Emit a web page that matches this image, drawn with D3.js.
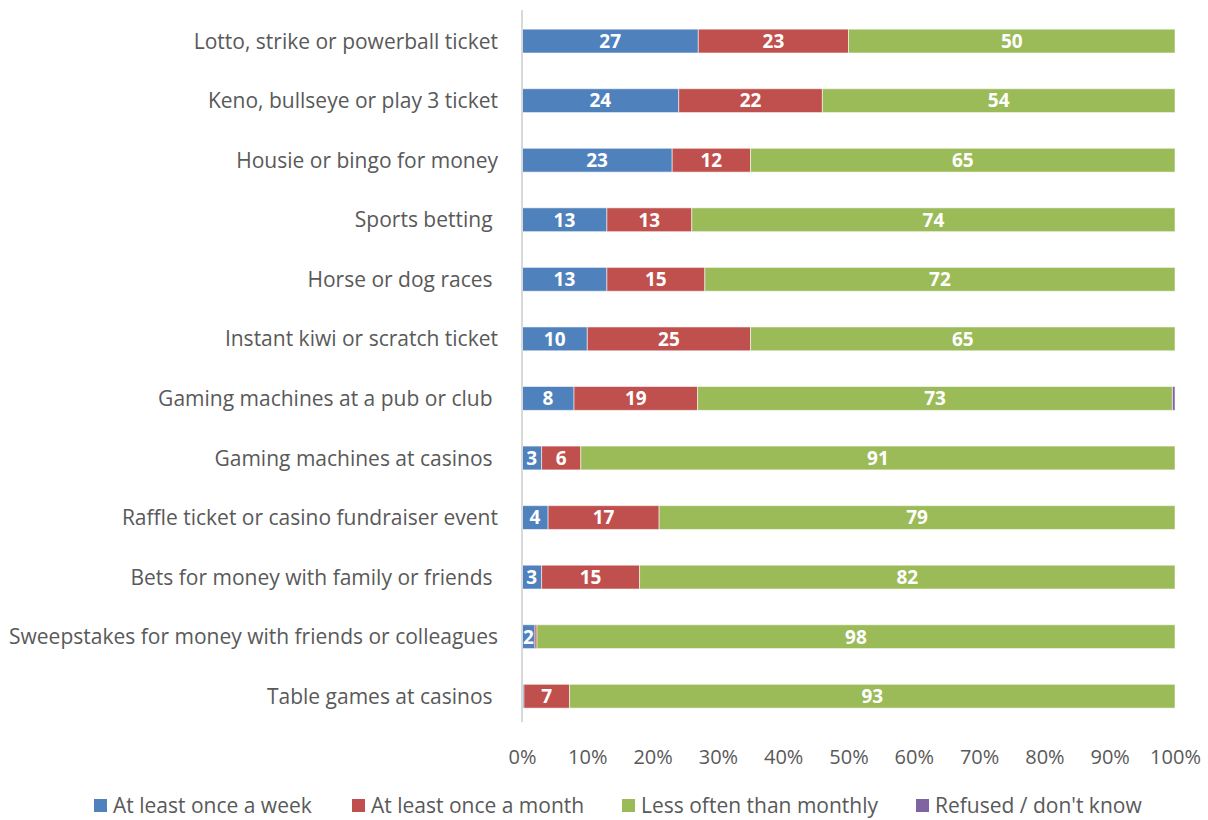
<!DOCTYPE html>
<html>
<head>
<meta charset="utf-8">
<script src="https://cdn.jsdelivr.net/npm/d3@7"></script>
<style>
  html, body { margin: 0; padding: 0; background: #fff; }
  svg { display: block; font-family: "Open Sans", Lato, sans-serif; }
</style>
</head>
<body>
<svg id="chart" width="1208" height="820"></svg>
<script>
// Gambling activity frequency (% of participants), 100% stacked bars
const categories = [
  "Lotto, strike or powerball ticket",
  "Keno, bullseye or play 3 ticket",
  "Housie or bingo for money",
  "Sports betting ",
  "Horse or dog races ",
  "Instant kiwi or scratch ticket",
  "Gaming machines at a pub or club ",
  "Gaming machines at casinos ",
  "Raffle ticket or casino fundraiser event",
  "Bets for money with family or friends ",
  "Sweepstakes for money with friends or colleagues",
  "Table games at casinos "
];
const seriesNames = ["At least once a week", "At least once a month", "Less often than monthly", "Refused / don't know"];
const weekly   = [27, 24, 23, 13, 13, 10, 8, 3, 4, 3, 2, 0.3];
const monthly  = [23, 22, 12, 13, 15, 25, 19, 6, 17, 15, 0.3, 7];
const lessOften= [50, 54, 65, 74, 72, 65, 73, 91, 79, 82, 98, 93];
const refused  = [0, 0, 0, 0, 0, 0, 0.4, 0, 0, 0, 0, 0];
const tickValues = [0, 0.1, 0.2, 0.3, 0.4, 0.5, 0.6, 0.7, 0.8, 0.9, 1];
const colors = ["#4F81BD", "#C0504D", "#9BBB59", "#8064A2"];

const rows = categories.map((c, i) => ({
  category: c,
  [seriesNames[0]]: weekly[i],
  [seriesNames[1]]: monthly[i],
  [seriesNames[2]]: lessOften[i],
  [seriesNames[3]]: refused[i]
}));

const svg = d3.select("#chart");
const x = d3.scaleLinear().domain([0, 1]).range([522, 1175]);
const y = d3.scaleBand().domain(categories).range([11.3, 726])
  .paddingInner(0.6).paddingOuter(0.3);
const color = d3.scaleOrdinal().domain(seriesNames).range(colors);

const stacked = d3.stack().keys(seriesNames).offset(d3.stackOffsetExpand)(rows);

const textColor = "#595959";
const fontSize = 21;

// bars
const layers = svg.append("g").selectAll("g").data(stacked).join("g")
  .attr("fill", d => color(d.key));

layers.selectAll("rect").data(d => d.map(p => ({p, key: d.key})))
  .join("rect")
  .attr("x", d => x(d.p[0]))
  .attr("y", d => y(d.p.data.category))
  .attr("width", d => Math.max(0, x(d.p[1]) - x(d.p[0])))
  .attr("height", y.bandwidth())
  .attr("stroke", "#ffffff")
  .attr("stroke-opacity", 0.55)
  .attr("stroke-width", 1);

// data labels
layers.selectAll("text").data(d => d.map(p => ({p, key: d.key})).filter(d => d.p.data[d.key] >= 1))
  .join("text")
  .attr("x", d => (x(d.p[0]) + x(d.p[1])) / 2)
  .attr("y", d => y(d.p.data.category) + y.bandwidth() / 2)
  .attr("dy", "0.36em")
  .attr("text-anchor", "middle")
  .attr("fill", "#ffffff")
  .attr("font-weight", "bold")
  .attr("font-size", 19)
  .text(d => d3.format("d")(d.p.data[d.key]));

// vertical category axis line
svg.append("line")
  .attr("x1", x(0)).attr("x2", x(0))
  .attr("y1", 10).attr("y2", 722)
  .attr("stroke", "#d9d9d9").attr("stroke-width", 2);

// category labels
svg.append("g").selectAll("text").data(categories).join("text")
  .attr("x", 498)
  .attr("y", d => y(d) + y.bandwidth() / 2)
  .attr("dy", "0.36em")
  .attr("text-anchor", "end")
  .attr("fill", textColor)
  .attr("font-size", fontSize)
  .style("white-space", "pre")
  .text(d => d);

// percentage axis
const xAxis = d3.axisBottom(x).tickValues(tickValues).tickFormat(d3.format(".0%")).tickSize(0).tickPadding(0);
const gx = svg.append("g").attr("transform", "translate(0,750)").call(xAxis);
gx.select(".domain").remove();
gx.selectAll("text")
  .attr("fill", textColor)
  .attr("font-size", 20)
  .attr("font-family", "'Open Sans', Lato, sans-serif");

// legend
const legendX = [94, 352, 622, 916];
const legend = svg.append("g").selectAll("g").data(seriesNames).join("g")
  .attr("transform", (d, i) => `translate(${legendX[i]},805)`);
legend.append("rect")
  .attr("x", 0).attr("y", -6)
  .attr("width", 13).attr("height", 13)
  .attr("fill", d => color(d));
legend.append("text")
  .attr("x", 19).attr("y", 0)
  .attr("dy", "0.36em")
  .attr("fill", textColor)
  .attr("font-size", fontSize)
  .text(d => d);
</script>
</body>
</html>
